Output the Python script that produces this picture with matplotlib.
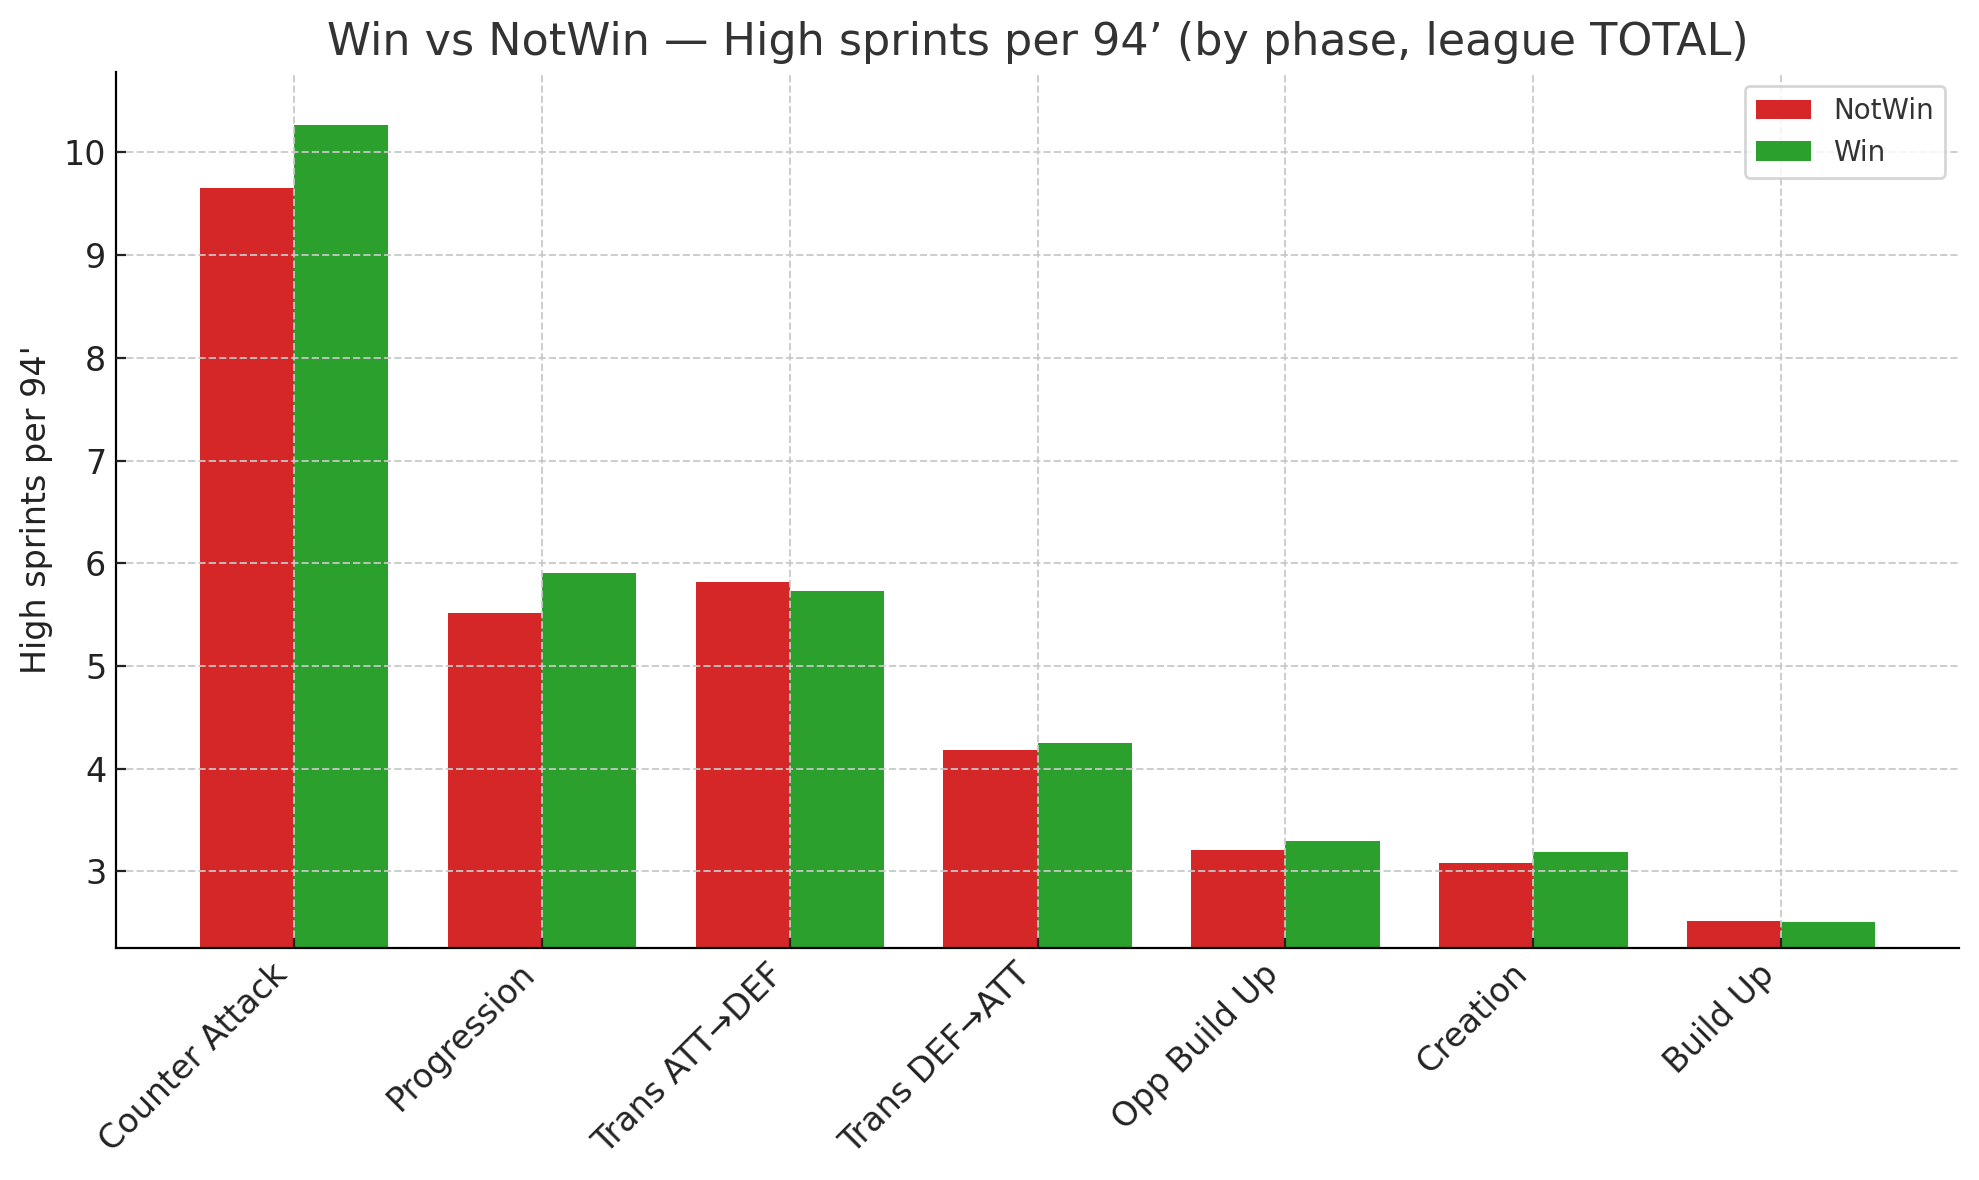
import numpy as np
import matplotlib.pyplot as plt

# phases and the per-94' high sprint values
phases = ['Counter Attack', 'Progression', 'Trans ATT→DEF', 'Trans DEF→ATT',
          'Opp Build Up', 'Creation', 'Build Up']
notwin = [9.65, 5.52, 5.82, 4.18, 3.21, 3.08, 2.52]
win = [10.27, 5.91, 5.73, 4.25, 3.30, 3.19, 2.51]

plt.rcParams['font.family'] = 'DejaVu Sans'
plt.rcParams['text.color'] = '#333333'
plt.rcParams['axes.labelcolor'] = '#222222'
plt.rcParams['xtick.color'] = '#222222'
plt.rcParams['ytick.color'] = '#222222'

fig, ax = plt.subplots(figsize=(9.895, 5.9), dpi=200)
fig.subplots_adjust(left=0.0586, right=0.990, top=0.939, bottom=0.197)

x = np.arange(len(phases))
w = 0.38
ax.bar(x - w / 2, notwin, w, color='#d62728', label='NotWin')
ax.bar(x + w / 2, win, w, color='#2ca02c', label='Win')

ax.set_ylim(min(notwin + win) * 0.9, max(notwin + win) * 1.05)
ax.set_xticks(x)
ax.set_xticklabels(phases, rotation=45, ha='right', fontsize=12)
ax.tick_params(axis='y', labelsize=12)
ax.tick_params(direction='in')
ax.set_ylabel("High sprints per 94'", fontsize=12)
ax.set_title('Win vs NotWin — High sprints per 94’ (by phase, league TOTAL)', fontsize=16)

# grid sits on top of the bars in the original
ax.set_axisbelow(False)
ax.grid(True, linestyle='--', color='#c8c8c8', linewidth=0.7, alpha=0.9)
for s in ['top', 'right']:
    ax.spines[s].set_visible(False)

ax.legend(loc='upper right', fontsize=10)

plt.savefig('out.png')
